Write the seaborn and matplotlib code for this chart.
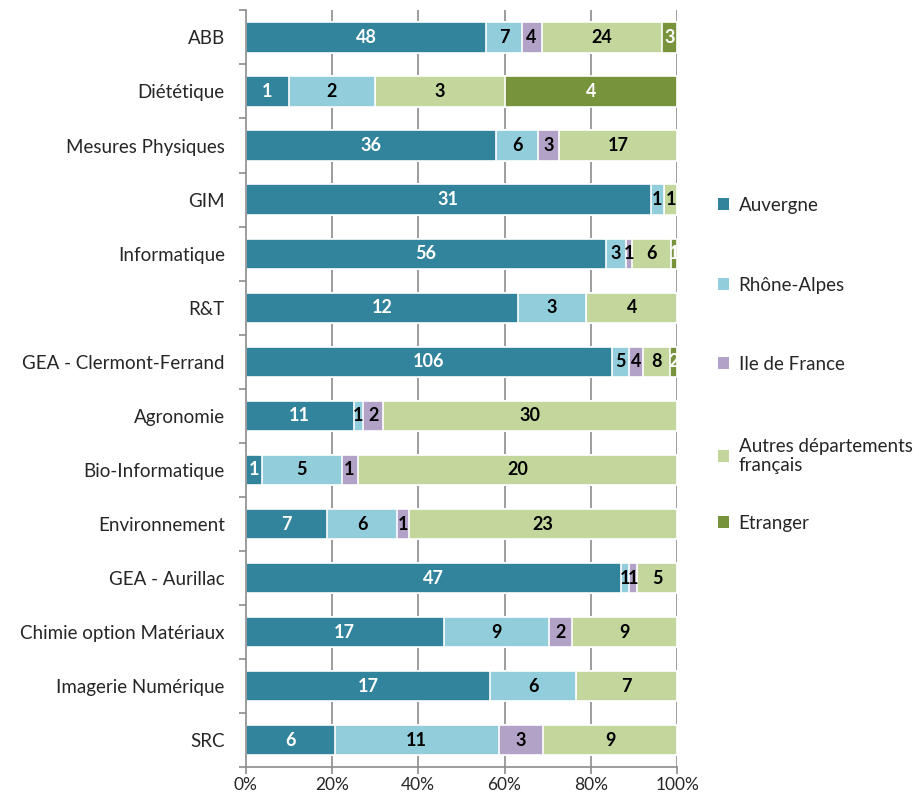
import numpy as np
import pandas as pd
import matplotlib
matplotlib.use("Agg")
import matplotlib.pyplot as plt
import seaborn as sns
from matplotlib.patches import Patch
from matplotlib.ticker import PercentFormatter, FixedLocator

categories = ["ABB", "Diététique", "Mesures Physiques", "GIM", "Informatique", "R&T",
              "GEA - Clermont-Ferrand", "Agronomie", "Bio-Informatique", "Environnement",
              "GEA - Aurillac", "Chimie option Matériaux", "Imagerie Numérique", "SRC"]
series_names = ["Auvergne", "Rhône-Alpes", "Ile de France", "Autres départements\nfrançais", "Etranger"]
auvergne = [48, 1, 36, 31, 56, 12, 106, 11, 1, 7, 47, 17, 17, 6]
rhone_alpes = [7, 2, 6, 1, 3, 3, 5, 1, 5, 6, 1, 9, 6, 11]
ile_de_france = [4, 0, 3, 0, 1, 0, 4, 2, 1, 1, 1, 2, 0, 3]
autres = [24, 3, 17, 1, 6, 4, 8, 30, 20, 23, 5, 9, 7, 9]
etranger = [3, 4, 0, 0, 1, 0, 2, 0, 0, 0, 0, 0, 0, 0]
colors = ["#31849B", "#92CDDC", "#B3A2C7", "#C3D69B", "#77933C"]
label_colors = ["white", "black", "black", "black", "white"]

vals = np.array([auvergne, rhone_alpes, ile_de_france, autres, etranger], dtype=float)
totals = vals.sum(axis=0)
props = vals / totals
cum = np.cumsum(props, axis=0)

sns.set_style("white")
plt.rcParams["font.family"] = ["Lato", "DejaVu Sans"]

fig = plt.figure(figsize=(9.2, 7.96), dpi=100)
ax = fig.add_axes([0.267, 0.036, 0.469, 0.951])

gray = "#8C8C8C"
for x in [0.2, 0.4, 0.6, 0.8, 1.0]:
    ax.axvline(x, color=gray, lw=1.2, zorder=0)

for i in range(len(series_names) - 1, -1, -1):
    df = pd.DataFrame({"cat": categories, "v": cum[i]})
    sns.barplot(data=df, x="v", y="cat", orient="h", color=colors[i], ax=ax,
                width=0.56, edgecolor="white", linewidth=1.2, saturation=1, zorder=2)

for i in range(len(series_names)):
    for j in range(len(categories)):
        if vals[i, j] > 0:
            xc = cum[i, j] - props[i, j] / 2
            ax.text(xc, j, f"{int(vals[i, j])}", ha="center", va="center",
                    color=label_colors[i], fontsize=13, fontweight="bold", zorder=3)

ax.set_xlim(0, 1)
ax.set_ylim(len(categories) - 0.5, -0.5)
ax.set_xlabel("")
ax.set_ylabel("")
ax.xaxis.set_major_locator(FixedLocator([0, 0.2, 0.4, 0.6, 0.8, 1.0]))
ax.xaxis.set_major_formatter(PercentFormatter(1.0, decimals=0))
ax.yaxis.set_minor_locator(FixedLocator(np.arange(-0.5, len(categories), 1.0)))
ax.tick_params(axis="x", which="major", direction="out", length=5, color=gray, width=1.2,
               labelsize=12.5, pad=2, bottom=True)
ax.tick_params(axis="y", which="major", length=0, labelsize=13.5, pad=15)
ax.tick_params(axis="y", which="minor", direction="out", length=5, color=gray, width=1.2, left=True)
for s in ["top", "right"]:
    ax.spines[s].set_visible(False)
for s in ["left", "bottom"]:
    ax.spines[s].set_color(gray)
    ax.spines[s].set_linewidth(1.2)
ax.grid(False)

legend_y_px = [205, 285, 364, 456, 523]
for c, name, ypx in zip(colors, series_names, legend_y_px):
    fig.legend([Patch(facecolor=c, edgecolor="none")], [name], loc="center left",
               bbox_to_anchor=(718 / 920, 1 - ypx / 796), frameon=False, fontsize=13.5,
               handlelength=0.6, handleheight=0.6, handletextpad=0.5,
               borderaxespad=0, borderpad=0)

fig.savefig("out.png", dpi=100)
